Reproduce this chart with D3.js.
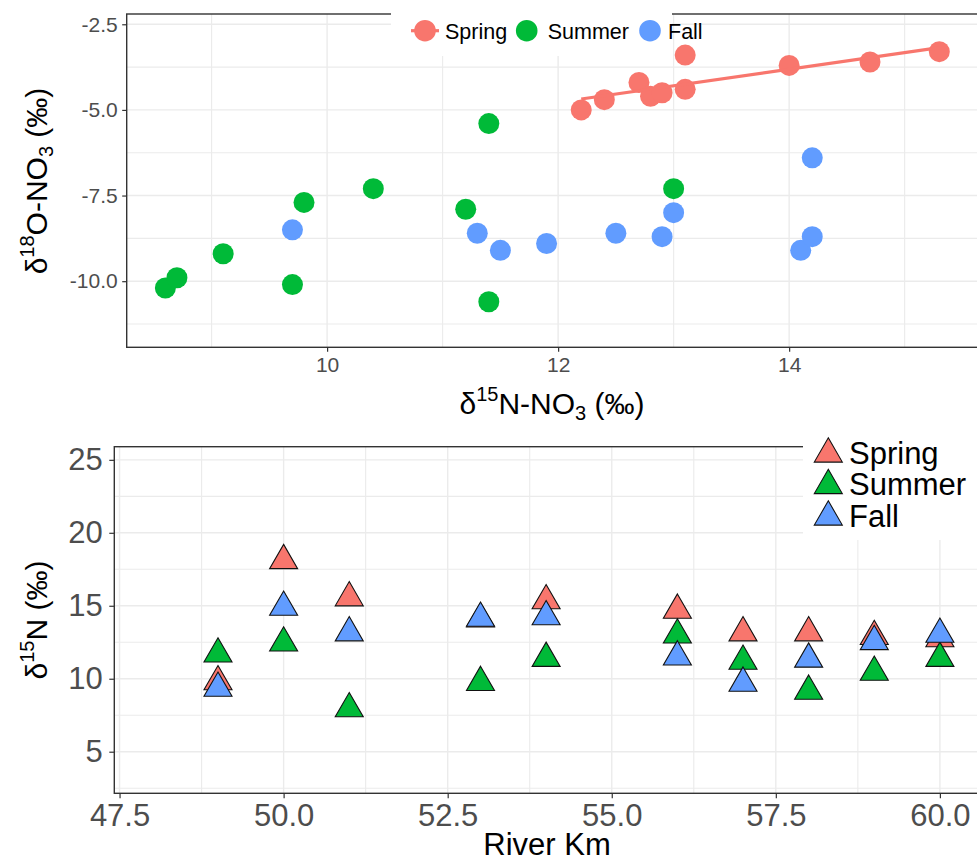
<!DOCTYPE html>
<html><head><meta charset="utf-8">
<script src="https://cdn.jsdelivr.net/npm/d3@7"></script>
<style>
body{margin:0;background:#fff}
svg{display:block}
text{font-family:"Liberation Sans",Arial,Helvetica,sans-serif}
</style>
</head><body>
<svg id="chart" width="977" height="860"></svg>
<script>
// ---------- data ----------
const seasons = ["Spring", "Summer", "Fall"];
const seasonColors = ["#F8766D", "#00BA38", "#619CFF"];

// Top panel: d15N-NO3 vs d18O-NO3
const springN15 = [12.2, 12.4, 12.7, 12.8, 12.9, 13.1, 13.1, 14.0, 14.7, 15.3];
const springO18 = [-5.0, -4.7, -4.2, -4.6, -4.5, -4.4, -3.4, -3.7, -3.6, -3.3];
const summerN15 = [8.6, 8.7, 9.1, 9.7, 9.8, 10.4, 11.2, 11.4, 11.4, 13.0];
const summerO18 = [-10.2, -9.9, -9.2, -10.1, -7.7, -7.3, -7.9, -5.4, -10.6, -7.3];
const fallN15 = [9.7, 11.3, 11.5, 11.9, 12.5, 12.9, 13.0, 14.1, 14.2, 14.2];
const fallO18 = [-8.5, -8.6, -9.1, -8.9, -8.6, -8.7, -8.0, -9.1, -8.7, -6.4];
const topXTicks = [10, 12, 14];
const topXMinor = [9, 11, 13, 15];
const topYTicks = [-2.5, -5.0, -7.5, -10.0];
const topYMinor = [-3.75, -6.25, -8.75, -11.25];

// Bottom panel: River Km vs d15N
const riverKm = [49, 50, 51, 53, 54, 56, 57, 58, 59, 60];
const springD15N = [9.8, 18.1, 15.55, 14.1, 15.35, 14.7, 13.15, 13.15, 12.9, 12.75];
const summerD15N = [11.7, 12.45, 7.95, 9.75, 11.4, 13.0, 11.2, 9.15, 10.45, 11.4];
const fallD15N = [9.35, 14.9, 13.15, 14.15, 14.25, 11.5, 9.7, 11.35, 12.55, 13.05];
const botXTicks = [47.5, 50.0, 52.5, 55.0, 57.5, 60.0];
const botXMinor = [48.75, 51.25, 53.75, 56.25, 58.75];
const botYTicks = [5, 10, 15, 20, 25];
const botYMinor = [2.5, 7.5, 12.5, 17.5, 22.5];

// ---------- helpers ----------
const svg = d3.select("#chart");
const GRID = "#ebebeb", BORDER = "#333333", TICKTXT = "#4d4d4d";

function grid(g, x, y, xs, ys, xMin, yMin, w) {
  g.selectAll(null).data(xMin).join("line")
    .attr("x1", d => x(d)).attr("x2", d => x(d))
    .attr("y1", y.range()[0]).attr("y2", y.range()[1])
    .attr("stroke", GRID).attr("stroke-width", w * 0.8);
  g.selectAll(null).data(yMin).join("line")
    .attr("y1", d => y(d)).attr("y2", d => y(d))
    .attr("x1", x.range()[0]).attr("x2", x.range()[1])
    .attr("stroke", GRID).attr("stroke-width", w * 0.8);
  g.selectAll(null).data(xs).join("line")
    .attr("x1", d => x(d)).attr("x2", d => x(d))
    .attr("y1", y.range()[0]).attr("y2", y.range()[1])
    .attr("stroke", GRID).attr("stroke-width", w);
  g.selectAll(null).data(ys).join("line")
    .attr("y1", d => y(d)).attr("y2", d => y(d))
    .attr("x1", x.range()[0]).attr("x2", x.range()[1])
    .attr("stroke", GRID).attr("stroke-width", w);
}

function styleAxis(g, fs) {
  g.select(".domain").remove();
  g.selectAll(".tick line").attr("stroke", BORDER).attr("stroke-width", 1.2);
  g.selectAll(".tick text").attr("fill", TICKTXT).style("font-size", fs + "px")
    .style("font-family", '"Liberation Sans",Arial,sans-serif');
}

// ---------- top panel ----------
const tx = d3.scaleLinear().domain([8.265, 15.635]).range([126.7, 978]);
const ty = d3.scaleLinear().domain([-11.93, -2.2]).range([347.3, 14]);
const topG = svg.append("g");
grid(topG, tx, ty, topXTicks, topYTicks, topXMinor, topYMinor, 1.4);

const topSeries = [
  {xs: springN15, ys: springO18},
  {xs: summerN15, ys: summerO18},
  {xs: fallN15, ys: fallO18}
];
topSeries.forEach((s, i) => {
  topG.append("g").selectAll("circle").data(s.xs.map((v, j) => [v, s.ys[j]])).join("circle")
    .attr("cx", d => tx(d[0])).attr("cy", d => ty(d[1])).attr("r", 10.5)
    .attr("fill", seasonColors[i]);
});
// linear fit for spring
(function () {
  const n = springN15.length;
  const mx = d3.mean(springN15), my = d3.mean(springO18);
  let sxy = 0, sxx = 0;
  for (let i = 0; i < n; i++) { sxy += (springN15[i] - mx) * (springO18[i] - my); sxx += (springN15[i] - mx) ** 2; }
  const b = sxy / sxx, a = my - b * mx;
  const x0 = d3.min(springN15), x1 = d3.max(springN15);
  topG.append("line")
    .attr("x1", tx(x0)).attr("y1", ty(a + b * x0))
    .attr("x2", tx(x1)).attr("y2", ty(a + b * x1))
    .attr("stroke", seasonColors[0]).attr("stroke-width", 3.2);
})();
topG.append("rect").attr("x", 126.7).attr("y", 14).attr("width", 978 - 126.7).attr("height", 347.3 - 14)
  .attr("fill", "none").attr("stroke", BORDER).attr("stroke-width", 1.4);
const tyAxis = topG.append("g").attr("transform", "translate(126.7,0)")
  .call(d3.axisLeft(ty).tickValues(topYTicks).tickFormat(d => d3.format(".1f")(d).replace("−", "-")).tickSize(4.5).tickPadding(4.5));
styleAxis(tyAxis, 21);
const txAxis = topG.append("g").attr("transform", "translate(0,347.3)")
  .call(d3.axisBottom(tx).tickValues(topXTicks).tickFormat(d3.format("d")).tickSize(4.5).tickPadding(5));
styleAxis(txAxis, 21);

// titles
const tyt = svg.append("text").attr("transform", "translate(46.5,181) rotate(-90)")
  .attr("text-anchor", "middle").style("font-size", "30px").attr("fill", "#000");
tyt.append("tspan").text("δ");
tyt.append("tspan").attr("dy", -13).style("font-size", "20px").text("18");
tyt.append("tspan").attr("dy", 13).text("O-NO");
tyt.append("tspan").attr("dy", 6).style("font-size", "20px").text("3");
tyt.append("tspan").attr("dy", -6).text(" (‰)");

const txt = svg.append("text").attr("x", 552).attr("y", 414)
  .attr("text-anchor", "middle").style("font-size", "30px").attr("fill", "#000");
txt.append("tspan").text("δ");
txt.append("tspan").attr("dy", -13).style("font-size", "20px").text("15");
txt.append("tspan").attr("dy", 13).text("N-NO");
txt.append("tspan").attr("dy", 6).style("font-size", "20px").text("3");
txt.append("tspan").attr("dy", -6).text(" (‰)");

// top legend
const tl = svg.append("g");
tl.append("rect").attr("x", 391).attr("y", 0).attr("width", 281).attr("height", 56).attr("fill", "#fff");
const topLegX = [425, 526.7, 650];
const topLegTextX = [445, 547.7, 668];
seasons.forEach((s, i) => {
  if (i === 0) tl.append("line").attr("x1", topLegX[i] - 14).attr("x2", topLegX[i] + 14)
    .attr("y1", 30.7).attr("y2", 30.7).attr("stroke", seasonColors[i]).attr("stroke-width", 3.2);
  tl.append("circle").attr("cx", topLegX[i]).attr("cy", 30.7).attr("r", 10.8).attr("fill", seasonColors[i]);
  tl.append("text").attr("x", topLegTextX[i]).attr("y", 38.5).style("font-size", "21.5px").attr("fill", "#000").text(s);
});

// ---------- bottom panel ----------
const bx = d3.scaleLinear().domain([47.42, 60.57]).range([114.3, 977.3]);
const by = d3.scaleLinear().domain([2.15, 25.9]).range([793.3, 446.7]);
const botG = svg.append("g");
grid(botG, bx, by, botXTicks, botYTicks, botXMinor, botYMinor, 1.4);
const tri = d3.symbol().type(d3.symbolTriangle).size(340);
[springD15N, summerD15N, fallD15N].forEach((vals, i) => {
  botG.append("g").selectAll("path").data(riverKm.map((k, j) => [k, vals[j]])).join("path")
    .attr("d", tri)
    .attr("transform", d => `translate(${bx(d[0])},${by(d[1])})`)
    .attr("fill", seasonColors[i]).attr("stroke", "#111").attr("stroke-width", 1.1)
    .attr("stroke-linejoin", "miter");
});
botG.append("rect").attr("x", 114.3).attr("y", 446.7).attr("width", 978 - 114.3).attr("height", 793.3 - 446.7)
  .attr("fill", "none").attr("stroke", BORDER).attr("stroke-width", 1.4);
const byAxis = botG.append("g").attr("transform", "translate(114.3,0)")
  .call(d3.axisLeft(by).tickValues(botYTicks).tickFormat(d3.format("d")).tickSize(5).tickPadding(6.5));
styleAxis(byAxis, 31);
const bxAxis = botG.append("g").attr("transform", "translate(0,793.3)")
  .call(d3.axisBottom(bx).tickValues(botXTicks).tickFormat(d3.format(".1f")).tickSize(5).tickPadding(5.5));
styleAxis(bxAxis, 31);

const byt = svg.append("text").attr("transform", "translate(47,620) rotate(-90)")
  .attr("text-anchor", "middle").style("font-size", "30px").attr("fill", "#000");
byt.append("tspan").text("δ");
byt.append("tspan").attr("dy", -13).style("font-size", "20px").text("15");
byt.append("tspan").attr("dy", 13).text("N (‰)");

svg.append("text").attr("x", 547).attr("y", 855).attr("text-anchor", "middle")
  .style("font-size", "31px").attr("fill", "#000").text("River Km");

// bottom legend
const bl = svg.append("g");
bl.append("rect").attr("x", 803).attr("y", 420).attr("width", 175).attr("height", 120).attr("fill", "#fff");
const botLegY = [454, 485.5, 517];
seasons.forEach((s, i) => {
  bl.append("path").attr("d", tri).attr("transform", `translate(828.3,${botLegY[i]})`)
    .attr("fill", seasonColors[i]).attr("stroke", "#111").attr("stroke-width", 1.1);
  bl.append("text").attr("x", 849).attr("y", botLegY[i] + 9.5).style("font-size", "31px")
    .attr("fill", "#000").text(s);
});
</script>
</body></html>
